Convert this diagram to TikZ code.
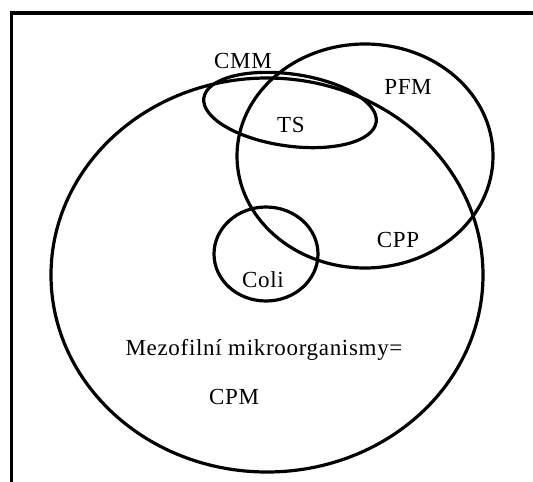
\documentclass[tikz,border=0pt]{standalone}
\usepackage{fontspec}
\setmainfont{Liberation Serif}
\begin{document}
\begin{tikzpicture}[x=1pt,y=-1pt,line width=3.2pt,
  lbl/.style={font=\fontsize{23}{25}\selectfont\addfontfeatures{LetterSpace=3}}]
  \useasboundingbox (0,0) rectangle (533,482);
  % frame
  \draw[line cap=rect] (533,13) -- (11.5,13) -- (11.5,482);

  % sets
  \draw (267,275) ellipse [x radius=216, y radius=197];
  \draw (365,156) ellipse [x radius=128, y radius=112];
  \draw[rotate around={-8:(290,110)}] (290,110) ellipse [x radius=87, y radius=36];
  \draw (266,254) ellipse [x radius=52, y radius=47];

  \node[lbl] (CMM) at (243,61) {CMM};
  \node[lbl] (PFM) at (408,87) {PFM};
  \node[lbl] (TS) at (291,125) {TS};
  \node[lbl] (CPP) at (398,240) {CPP};
  \node[lbl] (Coli) at (263,280) {Coli};
  \node[lbl] (Mezo) at (264,350) {Mezofilní mikroorganismy=};
  \node[lbl] (CPM) at (234,397) {CPM};
\end{tikzpicture}
\end{document}
